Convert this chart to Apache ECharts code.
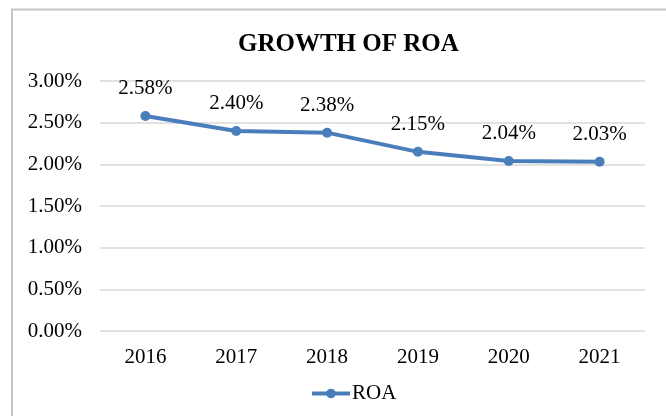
<!DOCTYPE html>
<html>
<head>
    <meta charset="UTF-8">
    <title>Growth of ROA</title>
    <script src="https://cdn.jsdelivr.net/npm/echarts/dist/echarts.min.js"></script>
    <style>
        body { margin: 0; background: #fff; }
        #chart { width: 666px; height: 416px; }
    </style>
</head>
<body>
    <div id="chart"></div>
    <script>
        // ROA by year (%)
        let years = ['2016', '2017', '2018', '2019', '2020', '2021'];
        let roaValues = [2.58, 2.40, 2.38, 2.15, 2.04, 2.03];

        let font = 'Liberation Serif';
        let chart = echarts.init(document.getElementById('chart'));
        let option = {
            backgroundColor: '#fff',
            textStyle: { fontFamily: font },
            // chart frame (only left and top edges fall inside the picture)
            graphic: [{
                type: 'rect',
                shape: { x: 12, y: 9.5, width: 720, height: 460 },
                style: { fill: 'none', stroke: '#c4c4c4', lineWidth: 2 },
                silent: true
            }],
            title: {
                text: 'GROWTH OF ROA',
                left: 233,
                top: 27,
                textStyle: { fontFamily: font, fontSize: 25, fontWeight: 'bold', color: '#000' }
            },
            legend: {
                data: ['ROA'],
                left: 305,
                top: 378,
                itemWidth: 38,
                itemHeight: 12,
                itemGap: 2,
                lineStyle: { width: 4 },
                textStyle: { fontFamily: font, fontSize: 21, color: '#000', padding: [0, 0, 0, -3] }
            },
            grid: {
                left: 100,
                right: 21,
                top: 81,
                bottom: 85
            },
            xAxis: {
                type: 'category',
                data: years,
                boundaryGap: true,
                axisLine: { show: false },
                axisTick: { show: false },
                axisLabel: { fontFamily: font, fontSize: 21, color: '#000', margin: 16 }
            },
            yAxis: {
                type: 'value',
                min: 0,
                max: 3,
                interval: 0.5,
                axisLine: { show: false },
                axisTick: { show: false },
                splitLine: { lineStyle: { color: '#d9d9d9', width: 1.5 } },
                axisLabel: {
                    fontFamily: font,
                    fontSize: 21,
                    color: '#000',
                    margin: 18,
                    formatter: v => v.toFixed(2) + '%'
                }
            },
            series: [{
                name: 'ROA',
                type: 'line',
                data: roaValues,
                symbol: 'circle',
                symbolSize: 10,
                color: '#4a7ebb',
                lineStyle: { width: 4, color: '#4a7ebb' },
                label: {
                    show: true,
                    position: 'top',
                    distance: 12,
                    fontFamily: font,
                    fontSize: 21,
                    color: '#000',
                    formatter: p => p.value.toFixed(2) + '%'
                }
            }]
        };
        chart.setOption(option);
    </script>
</body>
</html>
